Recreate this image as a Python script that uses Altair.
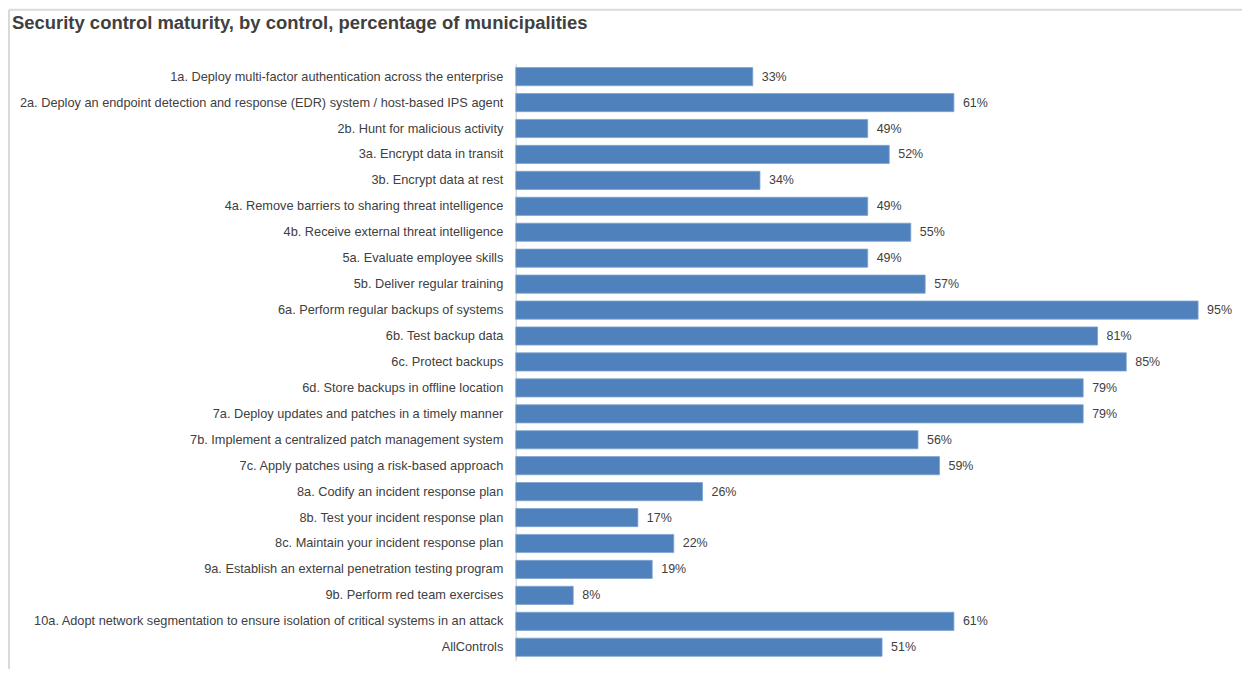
import altair as alt
import pandas as pd

controls = [
    "1a. Deploy multi-factor authentication across the enterprise",
    "2a. Deploy an endpoint detection and response (EDR) system / host-based IPS agent",
    "2b. Hunt for malicious activity",
    "3a. Encrypt data in transit",
    "3b. Encrypt data at rest",
    "4a. Remove barriers to sharing threat intelligence",
    "4b. Receive external threat intelligence",
    "5a. Evaluate employee skills",
    "5b. Deliver regular training",
    "6a. Perform regular backups of systems",
    "6b. Test backup data",
    "6c. Protect backups",
    "6d. Store backups in offline location",
    "7a. Deploy updates and patches in a timely manner",
    "7b. Implement a centralized patch management system",
    "7c. Apply patches using a risk-based approach",
    "8a. Codify an incident response plan",
    "8b. Test your incident response plan",
    "8c. Maintain your incident response plan",
    "9a. Establish an external penetration testing program",
    "9b. Perform red team exercises",
    "10a. Adopt network segmentation to ensure isolation of critical systems in an attack",
    "AllControls",
]
values = [33, 61, 49, 52, 34, 49, 55, 49, 57, 95, 81, 85, 79, 79, 56, 59, 26, 17, 22, 19, 8, 61, 51]
title_text = ["Security control maturity, by control, percentage of municipalities"]

df = pd.DataFrame({"control": controls, "value": values})

FONT = "Liberation Sans"
TXT = "#404040"

base = alt.Chart(df).encode(
    y=alt.Y("control:N", sort=controls, title=None,
            scale=alt.Scale(paddingInner=0.3, paddingOuter=0.15),
            axis=alt.Axis(ticks=False, labelPadding=13, labelFontSize=12.8,
                          labelFont=FONT, labelColor=TXT, labelLimit=600,
                          domainColor="#d9d9d9", domainWidth=1.5)),
)

bars = base.mark_bar(color="#4F81BD", stroke="#7fa3cf", strokeWidth=0.8).encode(
    x=alt.X("value:Q", scale=alt.Scale(domain=[0, 100]), axis=None),
)

labels = base.transform_calculate(lab="datum.value + '%'").mark_text(
    align="left", dx=9, fontSize=12.5, font=FONT, color=TXT, baseline="middle"
).encode(
    x=alt.X("value:Q"),
    text="lab:N",
)

one = pd.DataFrame({"t": title_text})
left_border = alt.Chart(one).mark_rule(color="#d9d9d9", strokeWidth=2).encode(
    x=alt.value(-508), y=alt.value(-54), y2=alt.value(620)
)
top_border = alt.Chart(one).mark_rule(color="#d9d9d9", strokeWidth=2).encode(
    x=alt.value(-508), x2=alt.value(728), y=alt.value(-54)
)
title = alt.Chart(one).mark_text(
    align="left", baseline="middle", font=FONT, fontSize=18.5,
    fontWeight="bold", color=TXT
).encode(
    x=alt.value(-505), y=alt.value(-41), text="t:N"
)

chart = alt.layer(left_border, top_border, title, bars, labels).properties(
    width=720,
    height=598,
    autosize=alt.AutoSizeParams(type="none"),
    padding={"left": 509, "top": 55, "right": 8, "bottom": 8},
    background="white",
).configure_view(stroke=None)

chart.save("out.html", embed_options={"renderer": "svg", "actions": False})
